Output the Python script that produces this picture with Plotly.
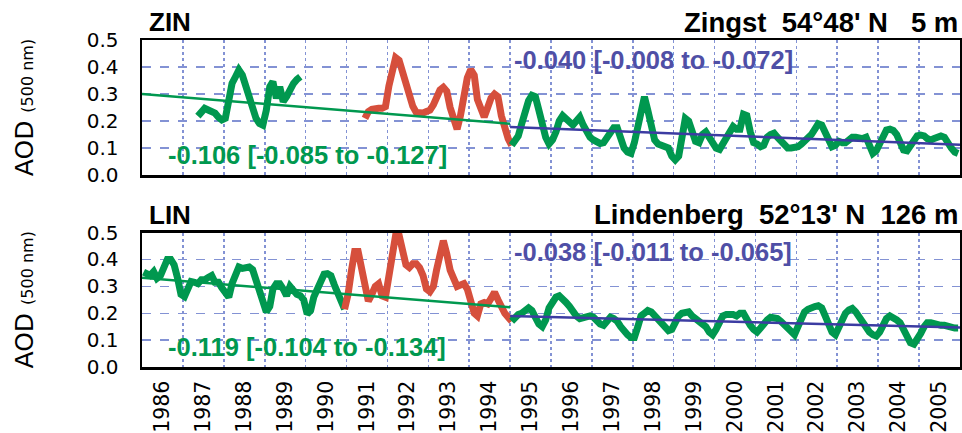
import pandas as pd
import plotly.graph_objects as go

# ---------------- data (monthly AOD at 500 nm) ----------------
zin_g1_start = "1987-05-01"
zin_g1 = [0.218, 0.229, 0.247, 0.241, 0.234, 0.229, 0.214, 0.204, 0.21, 0.278, 0.339, 0.364,
          0.389, 0.37, 0.327, 0.29, 0.253, 0.21, 0.191, 0.185, 0.24, 0.327, 0.346, 0.284,
          0.327, 0.272, 0.29, 0.321, 0.339, 0.354, 0.364]

zin_r_start = "1991-06-01"
zin_r = [0.21, 0.235, 0.243, 0.247, 0.247, 0.247, 0.253,
         0.33, 0.40, 0.435, 0.425, 0.38, 0.325, 0.29, 0.255, 0.232, 0.228, 0.23, 0.235,
         0.24, 0.26, 0.29, 0.315, 0.325, 0.31, 0.25, 0.2, 0.17, 0.22, 0.3, 0.36,
         0.39, 0.37, 0.28, 0.235, 0.215, 0.25, 0.285, 0.30, 0.29, 0.22, 0.165, 0.135]

zin_g2_start = "1995-01-01"
zin_g2 = [0.11, 0.125, 0.145, 0.19, 0.235, 0.275, 0.295, 0.29, 0.24, 0.185, 0.14, 0.115,
          0.13, 0.16, 0.2, 0.22, 0.21, 0.195, 0.185, 0.2, 0.215, 0.185, 0.155, 0.14,
          0.13, 0.125, 0.117, 0.12, 0.14, 0.155, 0.175, 0.175, 0.14, 0.1, 0.085, 0.08,
          0.12, 0.19, 0.25, 0.29, 0.24, 0.19, 0.13, 0.115, 0.11, 0.1, 0.1, 0.07,
          0.056, 0.07, 0.15, 0.21, 0.2, 0.17, 0.125, 0.12, 0.15, 0.16, 0.14, 0.12,
          0.1, 0.095, 0.115, 0.135, 0.155, 0.18, 0.17, 0.17, 0.225, 0.22, 0.16, 0.12,
          0.115, 0.105, 0.11, 0.14, 0.15, 0.155, 0.14, 0.125, 0.105, 0.1, 0.1, 0.1,
          0.105, 0.115, 0.125, 0.135, 0.15, 0.17, 0.19, 0.185, 0.16, 0.13, 0.105, 0.11,
          0.125, 0.12, 0.12, 0.13, 0.14, 0.14, 0.135, 0.135, 0.14, 0.1, 0.08, 0.09,
          0.12, 0.155, 0.167, 0.17, 0.165, 0.15, 0.12, 0.093, 0.09, 0.105, 0.13, 0.145,
          0.148, 0.145, 0.135, 0.13, 0.135, 0.14, 0.145, 0.14, 0.115, 0.1, 0.085, 0.08]

lin_g1_start = "1986-01-01"
lin_g1 = [0.353, 0.35, 0.341, 0.355, 0.33, 0.34, 0.372, 0.4, 0.4, 0.38, 0.33, 0.27,
          0.262, 0.29, 0.318, 0.315, 0.31, 0.325, 0.325, 0.333, 0.34, 0.315, 0.315, 0.295,
          0.28, 0.26, 0.31, 0.35, 0.372, 0.367, 0.367, 0.372, 0.362, 0.325, 0.285, 0.24,
          0.205, 0.225, 0.29, 0.31, 0.31, 0.29, 0.265, 0.3, 0.28, 0.27, 0.265, 0.25,
          0.197, 0.21, 0.26, 0.29, 0.322, 0.345, 0.347, 0.34, 0.305, 0.27, 0.245, 0.215]

lin_r_start = "1991-01-01"
lin_r = [0.27, 0.36, 0.43, 0.43, 0.37, 0.31, 0.245, 0.27, 0.3, 0.31, 0.265, 0.26,
         0.35, 0.43, 0.49, 0.49, 0.434, 0.38, 0.37, 0.384, 0.384, 0.37, 0.34, 0.29,
         0.28, 0.30, 0.36, 0.43, 0.47, 0.42, 0.36, 0.33, 0.3, 0.305, 0.31, 0.29,
         0.25, 0.2, 0.19, 0.235, 0.24, 0.235, 0.255, 0.278, 0.25, 0.22, 0.2, 0.185]

lin_g2_start = "1995-01-01"
lin_g2 = [0.17, 0.185, 0.195, 0.2, 0.21, 0.22, 0.21, 0.185, 0.16, 0.15, 0.175, 0.22,
          0.245, 0.26, 0.265, 0.255, 0.24, 0.225, 0.205, 0.19, 0.18, 0.185, 0.19, 0.19,
          0.185, 0.17, 0.16, 0.155, 0.17, 0.185, 0.18, 0.17, 0.15, 0.13, 0.12, 0.11,
          0.11, 0.15, 0.19, 0.2, 0.21, 0.205, 0.19, 0.18, 0.165, 0.15, 0.135, 0.14,
          0.17, 0.19, 0.2, 0.205, 0.205, 0.19, 0.18, 0.175, 0.165, 0.15, 0.13, 0.12,
          0.14, 0.17, 0.19, 0.195, 0.197, 0.195, 0.19, 0.2, 0.2, 0.175, 0.155, 0.14,
          0.13, 0.145, 0.165, 0.175, 0.185, 0.185, 0.18, 0.17, 0.155, 0.14, 0.125, 0.12,
          0.15, 0.19, 0.205, 0.215, 0.222, 0.225, 0.228, 0.22, 0.19, 0.155, 0.13, 0.12,
          0.15, 0.175, 0.2, 0.212, 0.218, 0.205, 0.185, 0.165, 0.145, 0.13, 0.12, 0.115,
          0.13, 0.16, 0.18, 0.19, 0.185, 0.175, 0.165, 0.14, 0.11, 0.09, 0.085, 0.1,
          0.125, 0.15, 0.165, 0.165, 0.16, 0.16, 0.155, 0.155, 0.15, 0.145, 0.145, 0.145]

# linear trends (start/end of each period)
trend_early_x = ["1986-01-01", "1995-01-01"]
trend_late_x = ["1995-01-01", "2006-01-01"]
zin_trend_early = [0.30, 0.19]
zin_trend_late = [0.178, 0.112]
lin_trend_early = [0.332, 0.222]
lin_trend_late = [0.19, 0.147]

labels = {
    "zin_code": "ZIN", "zin_site": "Zingst\u00a0\u00a054°48' N\u00a0\u00a0\u00a05 m",
    "lin_code": "LIN", "lin_site": "Lindenberg\u00a0\u00a052°13' N\u00a0\u00a0126 m",
    "zin_early": "-0.106 [-0.085 to -0.127]", "zin_late": "-0.040 [-0.008 to -0.072]",
    "lin_early": "-0.119 [-0.104 to -0.134]", "lin_late": "-0.038 [-0.011 to -0.065]",
    "ytitle": "AOD <span style='font-size:16px'>(500 nm)</span>",
}

# ---------------- styling ----------------
GREEN = "#00984f"
RED = "#d64f3c"
BLUE = "#3c3ca2"
BLUE_TXT = "#4f4fa6"
GRID = "#8392d4"
BOLD = "Liberation Sans, Arial, sans-serif"
TICKF = "DejaVu Sans, sans-serif"


def months(start, n):
    return list(pd.date_range(start=start, periods=n, freq="MS") + pd.Timedelta(days=14))


fig = go.Figure()


def add_series(x, y, color, ax, width=7):
    fig.add_trace(go.Scatter(x=x, y=y, mode="lines", line=dict(color=color, width=width),
                             xaxis=ax[0], yaxis=ax[1], showlegend=False, hoverinfo="skip"))


# ZIN (top)
zx1 = months(zin_g1_start, len(zin_g1))
zxr = months(zin_r_start, len(zin_r))
zx2 = months(zin_g2_start, len(zin_g2))
add_series(zx1, zin_g1, GREEN, ("x", "y"))
add_series(zxr + [zx2[0]], zin_r + [zin_g2[0]], RED, ("x", "y"))
add_series(zx2, zin_g2, GREEN, ("x", "y"))
add_series(trend_early_x, zin_trend_early, GREEN, ("x", "y"), 2.5)
add_series(trend_late_x, zin_trend_late, BLUE, ("x", "y"), 2.5)

# LIN (bottom)
lx1 = months(lin_g1_start, len(lin_g1))
lxr = months(lin_r_start, len(lin_r))
lx2 = months(lin_g2_start, len(lin_g2))
add_series(lx1, lin_g1, GREEN, ("x2", "y2"))
add_series([lx1[-1]] + lxr + [lx2[0]], [lin_g1[-1]] + lin_r + [lin_g2[0]], RED, ("x2", "y2"))
add_series(lx2, lin_g2, GREEN, ("x2", "y2"))
add_series(trend_early_x, lin_trend_early, GREEN, ("x2", "y2"), 2.5)
add_series(trend_late_x, lin_trend_late, BLUE, ("x2", "y2"), 2.5)

xcommon = dict(type="date", range=["1986-01-01", "2006-01-01"], dtick="M12", tick0="1986-01-01",
               showgrid=True, gridcolor=GRID, griddash="dot", gridwidth=1.6,
               showline=True, mirror=True, linecolor="black", linewidth=2.5,
               ticks="", zeroline=False, fixedrange=True, automargin=False)
ycommon = dict(range=[0, 0.5], dtick=0.1, tick0=0, tickformat=".1f",
               showgrid=True, gridcolor=GRID, griddash="dash", gridwidth=1.4,
               showline=True, mirror=True, linecolor="black", linewidth=2.5,
               ticks="", zeroline=False, automargin=False, ticklabelstandoff=17,
               fixedrange=True,
               tickfont=dict(family=TICKF, size=20, color="black"),
               title=dict(text=labels["ytitle"], standoff=46,
                          font=dict(family=TICKF, size=25, color="black")))

fig.update_layout(
    width=962, height=433,
    margin=dict(l=142, r=2, t=40, b=66),
    paper_bgcolor="white", plot_bgcolor="white",
    xaxis=dict(xcommon, domain=[0, 1], anchor="y", showticklabels=False),
    yaxis=dict(ycommon, domain=[0.587, 1], anchor="x"),
    xaxis2=dict(xcommon, domain=[0, 1], anchor="y2", showticklabels=True,
                ticklabelmode="period", tickformat="%Y", tickangle=-90, ticklabelstandoff=3,
                tickfont=dict(family=TICKF, size=20.5, color="black")),
    yaxis2=dict(ycommon, domain=[0, 0.411], anchor="x2"),
)


def ann(text, x, y, xanchor, size, color, family=BOLD):
    fig.add_annotation(text=text, x=x, y=y, xref="paper", yref="paper", xanchor=xanchor,
                       yanchor="middle", showarrow=False,
                       font=dict(family=family, size=size, color=color))


ann("<b>%s</b>" % labels["zin_code"], 0.006, 1.055, "left", 26, "black")
ann("<b>%s</b>" % labels["zin_site"], 1.0, 1.055, "right", 27.5, "black")
ann("<b>%s</b>" % labels["lin_code"], 0.006, 0.465, "left", 26, "black")
ann("<b>%s</b>" % labels["lin_site"], 1.0, 0.465, "right", 27.5, "black")
ann("<b>%s</b>" % labels["zin_early"], 0.029, 0.648, "left", 25.5, GREEN)
ann("<b>%s</b>" % labels["zin_late"], 0.452, 0.939, "left", 25.5, BLUE_TXT)
ann("<b>%s</b>" % labels["lin_early"], 0.029, 0.061, "left", 25.5, GREEN)
ann("<b>%s</b>" % labels["lin_late"], 0.452, 0.352, "left", 25.5, BLUE_TXT)

fig.write_html("out.html", config={"displayModeBar": False, "staticPlot": True},
               post_script="document.body.style.margin='0px';document.body.style.overflow='hidden';")
